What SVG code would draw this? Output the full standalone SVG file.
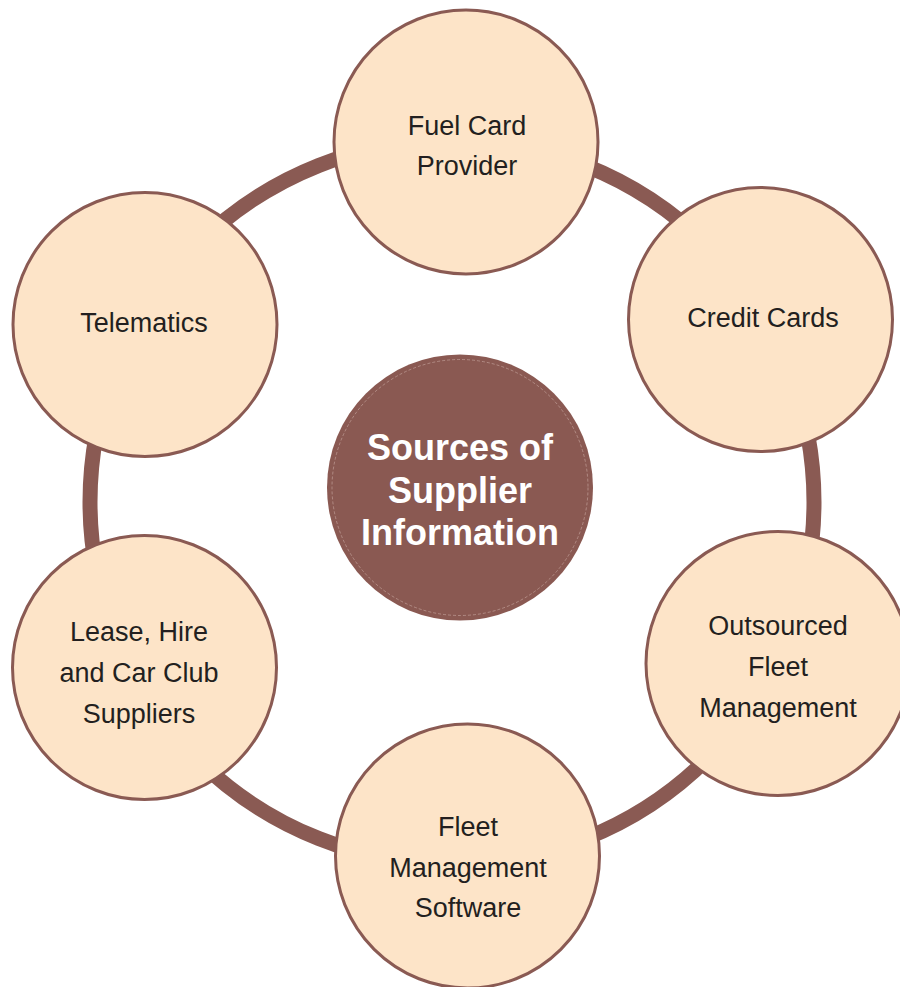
<svg xmlns="http://www.w3.org/2000/svg" width="900" height="987" viewBox="0 0 900 987">
<style>
.node{fill:#fde4c8;stroke:#8a5a53;stroke-width:3}
.lbl{font-family:"Liberation Sans",Arial,sans-serif;font-size:27px;fill:#231f20;text-anchor:middle}
.hub{fill:#8a5952}
.hubtxt{font-family:"Liberation Sans",Arial,sans-serif;font-size:36px;font-weight:bold;fill:#ffffff;text-anchor:middle}
</style>
<rect width="900" height="987" fill="#ffffff"/>
<g id="connectors">
<circle cx="452" cy="502" r="362" fill="none" stroke="#8a5a53" stroke-width="15"/>
</g>
<g id="hub">
<circle class="hub" cx="460" cy="487.5" r="133"/>
<circle cx="460" cy="487.5" r="128" fill="none" stroke="#c9a9a3" stroke-width="0.6" stroke-dasharray="3 2"/>
<text class="hubtxt" x="460" y="460">Sources of</text>
<text class="hubtxt" x="460" y="503">Supplier</text>
<text class="hubtxt" x="460" y="545">Information</text>
</g>
<g id="fuel-card">
<circle class="node" cx="466" cy="142" r="132"/>
<text class="lbl" x="467" y="135">Fuel Card</text>
<text class="lbl" x="467" y="175">Provider</text>
</g>
<g id="credit-cards">
<circle class="node" cx="760.5" cy="319.5" r="132"/>
<text class="lbl" x="763" y="327">Credit Cards</text>
</g>
<g id="outsourced">
<circle class="node" cx="778" cy="663.5" r="132"/>
<text class="lbl" x="778" y="635">Outsourced</text>
<text class="lbl" x="778" y="676">Fleet</text>
<text class="lbl" x="778" y="717">Management</text>
</g>
<g id="fleet-software">
<circle class="node" cx="467.5" cy="856" r="132"/>
<text class="lbl" x="468" y="836">Fleet</text>
<text class="lbl" x="468" y="877">Management</text>
<text class="lbl" x="468" y="917">Software</text>
</g>
<g id="lease">
<circle class="node" cx="144.5" cy="667.5" r="132"/>
<text class="lbl" x="139" y="641">Lease, Hire</text>
<text class="lbl" x="139" y="682">and Car Club</text>
<text class="lbl" x="139" y="723">Suppliers</text>
</g>
<g id="telematics">
<circle class="node" cx="145" cy="324.5" r="132"/>
<text class="lbl" x="144" y="332">Telematics</text>
</g>
</svg>
